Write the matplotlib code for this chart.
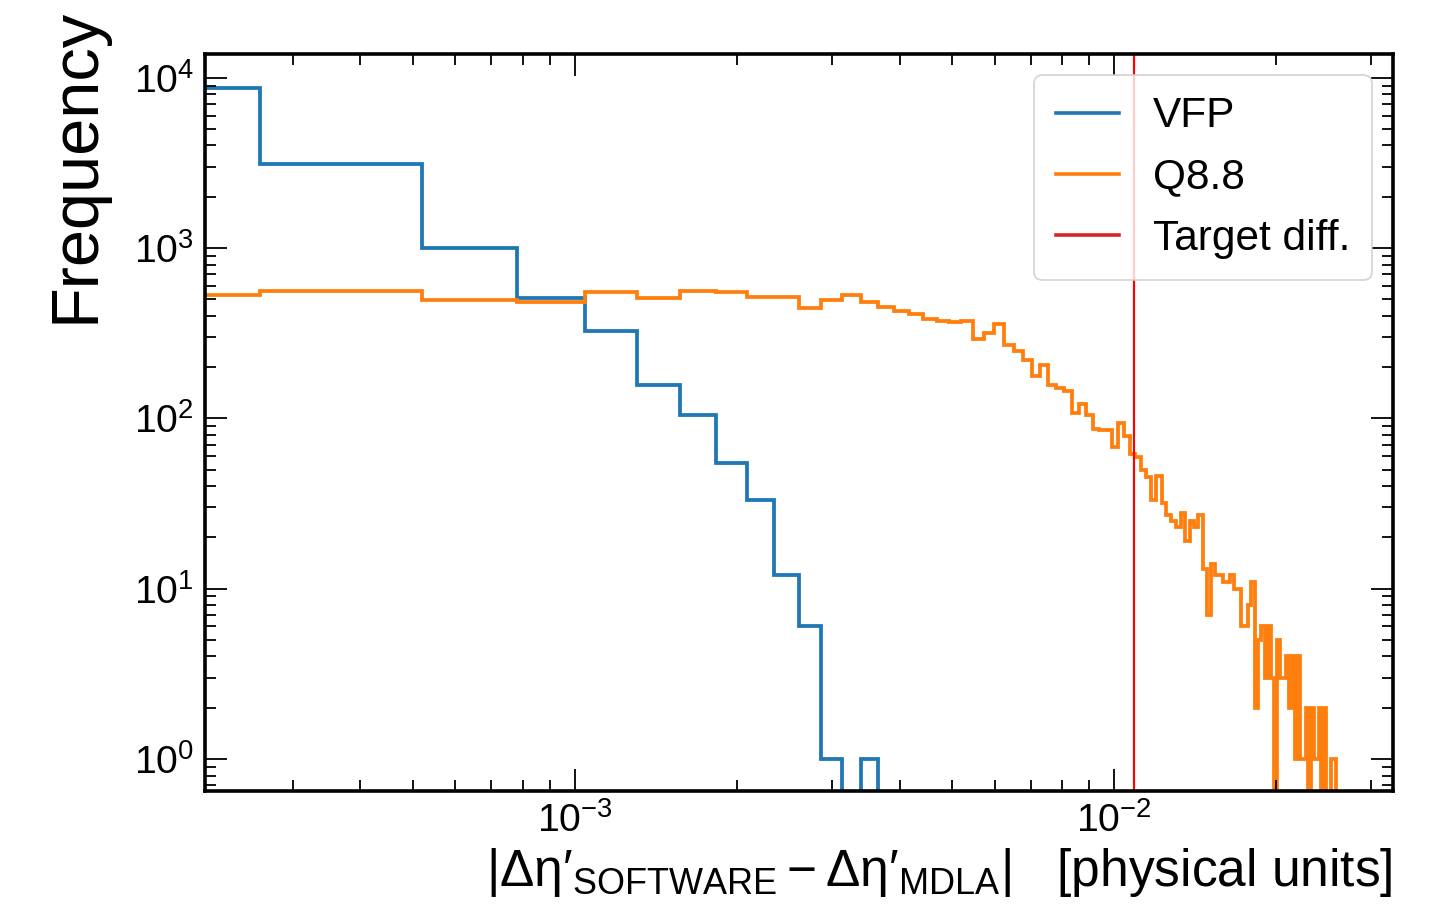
import numpy as np
import matplotlib
matplotlib.use("Agg")
import matplotlib.pyplot as plt
from matplotlib.lines import Line2D

# --- data (counts per linear bin, same binning for both) ---
bin_width = 2.605e-4
vfp_counts = [8750, 3120, 998, 507, 327, 157, 105, 55, 33, 12, 6, 1, 0, 1]
q88_counts = [
    530, 562, 496, 484, 553, 511, 560, 550, 518, 514,
    443, 498, 528, 481, 449, 429, 408, 385, 373, 367,
    375, 294, 316, 357, 270, 250, 220, 177, 206, 157,
    150, 144, 108, 122, 105, 87, 86, 85, 68, 94,
    79, 62, 59, 50, 45, 33, 46, 32, 27, 25,
    23, 28, 19, 25, 23, 27, 13, 7, 14, 12,
    12, 11, 11, 12, 10, 10, 6, 6, 8, 11,
    2, 5, 6, 3, 6, 3, 0, 5, 3, 3,
    4, 2, 4, 1, 4, 1, 1, 2, 0, 2,
    1, 1, 2, 0, 2, 0, 0, 1, 1, 0,
]
target_diff = 0.0109
labels = ["VFP", "Q8.8", "Target diff."]

# --- CMS-like style by hand ---
plt.rcParams.update({
    "font.family": ["Liberation Sans", "DejaVu Sans"],
    "font.size": 26,
    "mathtext.fontset": "custom",
    "mathtext.rm": "Liberation Sans",
    "mathtext.it": "Liberation Sans",
    "mathtext.bf": "Liberation Sans:bold",
    "mathtext.default": "regular",
    "axes.linewidth": 2,
    "xtick.direction": "in",
    "ytick.direction": "in",
    "xtick.major.size": 12,
    "xtick.minor.size": 6,
    "ytick.major.size": 12,
    "ytick.minor.size": 6,
    "xtick.major.width": 1,
    "ytick.major.width": 1,
    "xtick.minor.width": 1,
    "ytick.minor.width": 1,
    "xtick.major.pad": 6,
    "ytick.major.pad": 6,
    "xtick.labelsize": 21.7,
    "ytick.labelsize": 21.7,
    "xtick.top": True,
    "ytick.right": True,
    "axes.unicode_minus": True,
})

fig = plt.figure(figsize=(11, 905 / 130), dpi=130)
ax = fig.add_axes([205 / 1430, 1 - 791 / 905, (1393 - 205) / 1430, (791 - 54) / 905])

edges_vfp = np.arange(len(vfp_counts) + 1) * bin_width
edges_q88 = np.arange(len(q88_counts) + 1) * bin_width

ax.stairs(vfp_counts, edges_vfp, color="#1f77b4", lw=2.1)
ax.stairs(q88_counts, edges_q88, color="#ff7f0e", lw=2.1)
ax.axvline(target_diff, color="red", lw=1.2)

ax.set_xscale("log")
ax.set_yscale("log")
ax.set_xlim(2.06e-4, 0.0329)
ax.set_ylim(0.649, 13780)

ax.set_xlabel("$|\\Delta\\eta\u2032_{\\mathrm{SOFTWARE}} - \\Delta\\eta\u2032_{\\mathrm{MDLA}}|$   [physical units]",
              fontsize=28.5, loc="right")
ax.xaxis.set_label_coords(1.0, -0.075)
ax.set_ylabel("Frequency", fontsize=37, loc="top")
ax.yaxis.set_label_coords(-0.082, 1.0625)

handles = [Line2D([], [], color="#1f77b4", lw=2),
           Line2D([], [], color="#ff7f0e", lw=2),
           Line2D([], [], color="#d62728", lw=2)]
ax.legend(handles, labels, loc="upper right", fontsize=23.5, handlelength=1.5,
          borderpad=0.5)

fig.savefig("out.png", dpi=130)
